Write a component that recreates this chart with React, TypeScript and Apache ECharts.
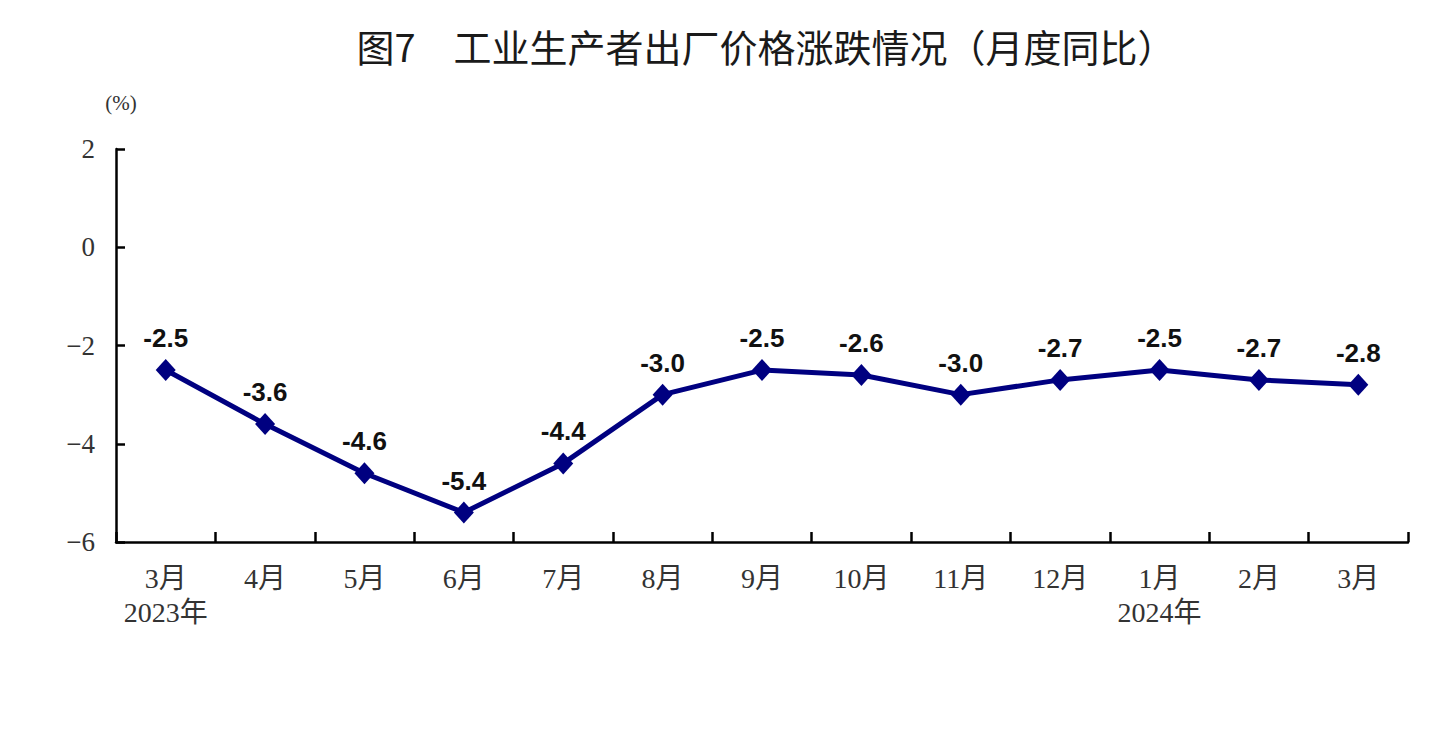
import React, { useEffect, useRef } from "react";
import * as echarts from "echarts";

const categories = ["3月\n2023年", "4月", "5月", "6月", "7月", "8月", "9月", "10月", "11月", "12月", "1月\n2024年", "2月", "3月"];
const values = [-2.5, -3.6, -4.6, -5.4, -4.4, -3.0, -2.5, -2.6, -3.0, -2.7, -2.5, -2.7, -2.8];
const titleText = "图7　工业生产者出厂价格涨跌情况（月度同比）";
const yMin = -6;
const yMax = 2;
const yInterval = 2;

const serif = "'Liberation Serif', 'DejaVu Serif', 'Noto Sans CJK SC', serif";

export default function App() {
  const ref = useRef<HTMLDivElement>(null);
  useEffect(() => {
    if (!ref.current) return;
    const chart = echarts.init(ref.current, undefined, { renderer: "svg" });
    chart.setOption({
      animation: false,
      backgroundColor: "#ffffff",
      title: {
        text: titleText,
        left: 761,
        top: 21,
        textAlign: "center",
        textStyle: {
          fontFamily: "'Noto Sans CJK SC', sans-serif",
          fontSize: 38,
          fontWeight: "normal",
          color: "#1a1a1a",
        },
      },
      grid: { left: 116, right: 29, top: 149, bottom: 205, containLabel: false },
      xAxis: {
        type: "category",
        data: categories,
        boundaryGap: true,
        axisLine: { show: true, onZero: false, lineStyle: { color: "#000", width: 2.5 } },
        axisTick: { show: true, inside: true, length: 10, alignWithLabel: false, lineStyle: { color: "#000", width: 2.5 } },
        axisLabel: {
          interval: 0,
          margin: 19,
          color: "#333",
          fontFamily: serif,
          fontSize: 28,
          lineHeight: 34,
        },
      },
      yAxis: {
        type: "value",
        min: yMin,
        max: yMax,
        interval: yInterval,
        name: "(%)",
        nameLocation: "end",
        nameGap: 36,
        nameTextStyle: { color: "#333", fontFamily: serif, fontSize: 21, align: "center", padding: [0, 0, 0, 10] },
        splitLine: { show: false },
        axisLine: { show: true, lineStyle: { color: "#000", width: 2.5 } },
        axisTick: { show: true, inside: true, length: 9, lineStyle: { color: "#000", width: 2.5 } },
        axisLabel: {
          margin: 21,
          color: "#333",
          fontFamily: serif,
          fontSize: 27,
          formatter: (v: number) => (v < 0 ? "\u2212" + Math.abs(v) : String(v)),
        },
      },
      series: [
        {
          type: "line",
          data: values,
          symbol: "diamond",
          symbolSize: [20, 22],
          lineStyle: { color: "#000080", width: 5 },
          itemStyle: { color: "#000080" },
          label: {
            show: true,
            position: "top",
            distance: 8,
            color: "#111",
            fontFamily: "'Liberation Sans', Arial, sans-serif",
            fontWeight: "bold",
            fontSize: 26,
            formatter: (p: any) => p.value.toFixed(1),
          },
        },
      ],
    });
    return () => chart.dispose();
  }, []);
  return <div ref={ref} style={{ position: "fixed", left: 0, top: 0, width: 1437, height: 747 }} />;
}
